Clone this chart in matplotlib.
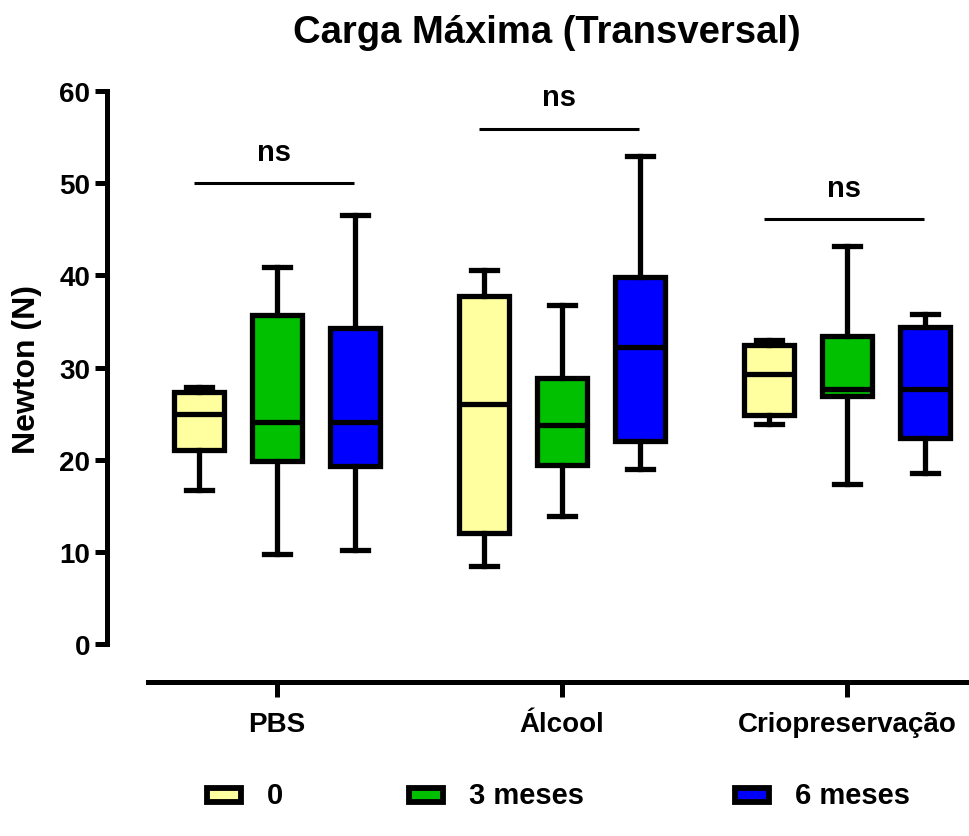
import matplotlib
matplotlib.use("Agg")
import matplotlib.pyplot as plt
from matplotlib.patches import Rectangle

plt.rcParams['font.family'] = ['Liberation Sans', 'DejaVu Sans']
plt.rcParams['font.weight'] = 'bold'

groups = ["PBS", "Álcool", "Criopreservação"]
series = ["0", "3 meses", "6 meses"]
colors = ["#FFFFA0", "#00C000", "#0000FF"]

# [whislo, q1, median, q3, whishi] per group, per series
s0 = [[16.7, 21.1, 25.0, 27.3, 27.9],
      [8.5, 12.0, 26.0, 37.8, 40.6],
      [23.9, 24.9, 29.3, 32.4, 33.0]]
s3 = [[9.8, 19.9, 24.1, 35.7, 40.9],
      [13.9, 19.4, 23.75, 28.9, 36.8],
      [17.35, 26.9, 27.65, 33.4, 43.2]]
s6 = [[10.2, 19.3, 24.1, 34.3, 46.5],
      [19.0, 22.05, 32.2, 39.8, 53.0],
      [18.6, 22.3, 27.65, 34.4, 35.8]]
all_series = [s0, s3, s6]

ns_heights = [50.0, 55.9, 46.1]
ns_labels = ["ns", "ns", "ns"]

fig = plt.figure(figsize=(9.7, 8.37), dpi=100)
ax = fig.add_axes([107/970, 1-683/837, 1-107/970, (683-92)/837])

offsets = [-0.274, 0.0, 0.274]
lw = 3.8
for si, (data, col) in enumerate(zip(all_series, colors)):
    stats = []
    for g in data:
        stats.append(dict(whislo=g[0], q1=g[1], med=g[2], q3=g[3], whishi=g[4], fliers=[]))
    pos = [gi + offsets[si] for gi in range(len(groups))]
    ax.bxp(stats, positions=pos, widths=0.175, patch_artist=True, showfliers=False,
           capwidths=0.091,
           boxprops=dict(facecolor=col, edgecolor='black', linewidth=lw),
           medianprops=dict(color='black', linewidth=lw),
           whiskerprops=dict(color='black', linewidth=lw),
           capprops=dict(color='black', linewidth=lw),
           manage_ticks=False, zorder=3)

for gi, (h, lab) in enumerate(zip(ns_heights, ns_labels)):
    ax.plot([gi - 0.29, gi + 0.27], [h, h], color='black', lw=2.2, solid_capstyle='butt')
    ax.text(gi - 0.01, h + 1.9, lab, ha='center', va='bottom', fontsize=21, fontweight='bold')

ax.set_xlim(-0.596, 2.432)
ax.set_ylim(-4.12, 60)
ax.spines['top'].set_visible(False)
ax.spines['right'].set_visible(False)
ax.spines['left'].set_bounds(0, 60)
ax.spines['bottom'].set_bounds(-0.453, 2.432)
for s in ['left', 'bottom']:
    ax.spines[s].set_linewidth(3.6)
ax.set_yticks([0, 10, 20, 30, 40, 50, 60])
ax.set_xticks(range(len(groups)))
ax.set_xticklabels(groups)
ax.tick_params(axis='y', length=9, width=3.6, labelsize=20, pad=3)
ax.tick_params(axis='x', length=11, width=3.6, labelsize=20, pad=10)
for t in ax.get_xticklabels() + ax.get_yticklabels():
    t.set_fontweight('bold')
ax.set_ylabel("Newton (N)", fontsize=23, fontweight='bold')
ax.yaxis.set_label_coords(-0.075, 0.53)

fig.text(547/970, 1-33/837, "Carga Máxima (Transversal)", ha='center', va='center',
         fontsize=27.5, fontweight='bold')

# legend (manual placement)
leg_x = [204, 406, 732]
for x, col, lab in zip(leg_x, colors, series):
    fig.patches.append(Rectangle(((x + 3)/970, 1-803/837), 34/970, 14/837, transform=fig.transFigure,
                                 facecolor=col, edgecolor='black', linewidth=4.2))
    fig.text((x + 63)/970, 1-796/837, lab, ha='left', va='center', fontsize=21, fontweight='bold')

fig.savefig("out.png", dpi=100)
